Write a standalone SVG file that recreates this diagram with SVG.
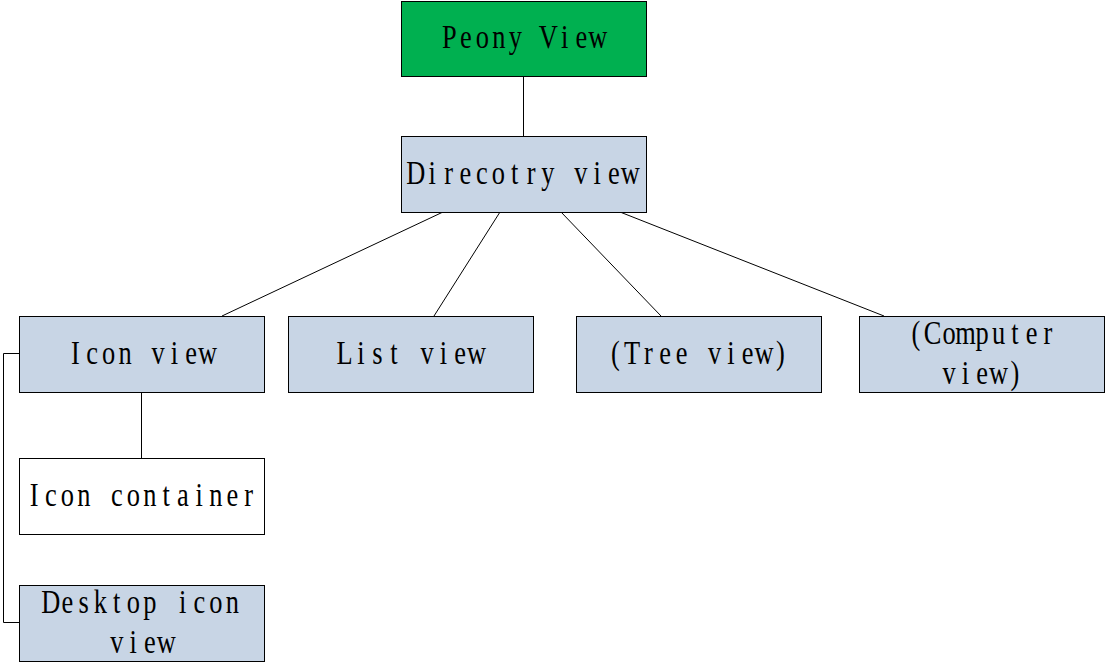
<svg xmlns="http://www.w3.org/2000/svg" width="1105" height="663" viewBox="0 0 1105 663">
<style>
.n{stroke:#000;stroke-width:1}
.b{fill:#C8D5E5}
.w{fill:#FFFFFF}
.g{fill:#00B050}
.t{font-family:"Liberation Serif",serif;font-size:33px;fill:#000;text-anchor:middle}
.c{stroke:#000;stroke-width:1;fill:none}
</style>
<rect width="1105" height="663" fill="#FFFFFF"/>
<g id="connectors">
<line class="c" x1="523.5" y1="76" x2="523.5" y2="136"/>
<line class="c" x1="443" y1="212" x2="222" y2="316"/>
<line class="c" x1="500" y1="212" x2="434" y2="316"/>
<line class="c" x1="561" y1="212" x2="661" y2="316"/>
<line class="c" x1="620" y1="212" x2="884" y2="316"/>
<line class="c" x1="141.5" y1="392" x2="141.5" y2="458"/>
<polyline class="c" points="19,353.5 3.5,353.5 3.5,622.5 19,622.5"/>
</g>
<g id="peony">
<rect class="n g" x="401.5" y="1.5" width="245" height="75"/>
<text class="t" transform="translate(523.5 48) scale(0.8 1)" x="-92.81 -72.19 -51.56 -30.94 -10.31 10.31 30.94 51.56 72.19 92.81" y="0">Peony View</text>
</g>
<g id="directory">
<rect class="n b" x="401.5" y="136.5" width="245" height="76"/>
<text class="t" transform="translate(523 184) scale(0.8 1)" x="-134.06 -113.44 -92.81 -72.19 -51.56 -30.94 -10.31 10.31 30.94 51.56 72.19 92.81 113.44 134.06" y="0">Direcotry view</text>
</g>
<g id="iconview">
<rect class="n b" x="19.5" y="316.5" width="245" height="76"/>
<text class="t" transform="translate(141.5 364) scale(0.8 1)" x="-82.5 -61.88 -41.25 -20.63 0 20.63 41.25 61.88 82.5" y="0">Icon view</text>
</g>
<g id="listview">
<rect class="n b" x="288.5" y="316.5" width="245" height="76"/>
<text class="t" transform="translate(410.5 364) scale(0.8 1)" x="-82.5 -61.88 -41.25 -20.63 0 20.63 41.25 61.88 82.5" y="0">List view</text>
</g>
<g id="treeview">
<rect class="n b" x="576.5" y="316.5" width="245" height="76"/>
<text class="t" transform="translate(698 364) scale(0.8 1)" x="-103.13 -82.5 -61.88 -41.25 -20.63 0 20.63 41.25 61.88 82.5 103.13" y="0">(Tree view)</text>
</g>
<g id="computerview">
<rect class="n b" x="859.5" y="316.5" width="245" height="76"/>
<text class="t" transform="translate(982 344) scale(0.8 1)" x="-82.5 -61.88 -41.25 -20.63 0 20.63 41.25 61.88 82.5" y="0">(Computer</text>
<text class="t" transform="translate(982 384) scale(0.8 1)" x="-41.25 -20.63 0 20.63 41.25" y="0">view)</text>
</g>
<g id="iconcontainer">
<rect class="n w" x="19.5" y="458.5" width="245" height="76"/>
<text class="t" transform="translate(141.5 506) scale(0.8 1)" x="-134.06 -113.44 -92.81 -72.19 -51.56 -30.94 -10.31 10.31 30.94 51.56 72.19 92.81 113.44 134.06" y="0">Icon container</text>
</g>
<g id="desktopiconview">
<rect class="n b" x="19.5" y="585.5" width="245" height="76"/>
<text class="t" transform="translate(141.5 613) scale(0.8 1)" x="-113.44 -92.81 -72.19 -51.56 -30.94 -10.31 10.31 30.94 51.56 72.19 92.81 113.44" y="0">Desktop icon</text>
<text class="t" transform="translate(141.5 653) scale(0.8 1)" x="-30.94 -10.31 10.31 30.94" y="0">view</text>
</g>
</svg>
